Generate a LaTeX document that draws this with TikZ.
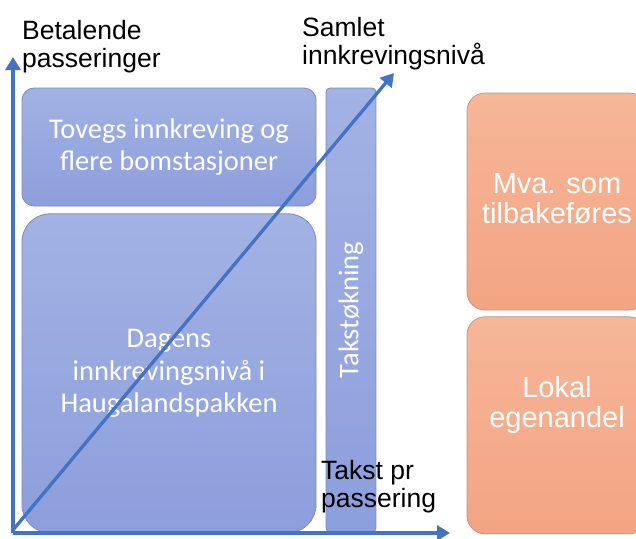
\documentclass[tikz,border=0pt]{standalone}
\usepackage{fontspec}
\setmainfont{Liberation Sans}
\newfontfamily\calfont{Carlito}
\usepackage{tikz}
\usetikzlibrary{positioning,arrows.meta}

\definecolor{axisblue}{RGB}{68,114,196}
\definecolor{boxblue}{RGB}{140,158,220}
\definecolor{boxbluetop}{RGB}{163,178,228}
\definecolor{boxedge}{RGB}{125,140,185}
\definecolor{boxorange}{RGB}{243,164,130}
\definecolor{boxorangetop}{RGB}{246,182,152}
\definecolor{orangeedge}{RGB}{190,150,135}

\begin{document}
\begin{tikzpicture}[
  x=1pt, y=-1pt,
  node distance=7pt and 10pt,
  bbox/.style={draw=boxedge, line width=0.8pt, top color=boxbluetop, bottom color=boxblue,
    text=white, align=center, inner sep=0pt, font=\calfont\fontsize{28.5}{32.5}\selectfont},
  obox/.style={draw=orangeedge, line width=0.8pt, top color=boxorangetop, bottom color=boxorange,
    rounded corners=18pt, minimum width=180pt, minimum height=217pt, inner sep=0pt},
  otext/.style={text=white, align=center, inner sep=0pt, font=\fontsize{29}{30}\selectfont},
  axislabel/.style={anchor=north west, align=left, inner sep=0pt, font=\fontsize{26.5}{28}\selectfont},
  arrow/.style={-{Triangle[length=13pt,width=15pt]}, line width=3.3pt, draw=axisblue}
]
\useasboundingbox (0,0) rectangle (636,538);

% Blue boxes
\node[bbox, minimum width=294pt, minimum height=118pt, rounded corners=12pt] (tovegs) at (169,147)
  {Tovegs innkreving og\\flere bomstasjoner};
\node[bbox, below=of tovegs, minimum width=294pt, minimum height=319pt, rounded corners=28pt] (dagens)
  {Dagens\\innkrevingsnivå i\\Haugalandspakken};
\node[bbox, rotate=90, minimum width=444pt, minimum height=50pt, rounded corners=4pt] (takst) at (351,310)
  {Takstøkning};

% Orange boxes
\node[obox] (mva) at (557,201.5) {};
\node[otext, yshift=3pt] (mvatext) at (mva) {Mva. som\\tilbakeføres};
\node[obox, below=6pt of mva] (lokal) {};
\node[otext, yshift=20pt] (lokaltext) at (lokal) {Lokal\\egenandel};

% Axes
\coordinate (origo) at (13,533);
\coordinate (ytop) at (13,57);
\coordinate (xend) at (450,533);
\coordinate (sumtop) at (394,73);
\draw[arrow] (origo) -- (ytop);
\draw[arrow] (origo) -- (xend);
\draw[arrow] ([yshift=3pt]origo) -- (sumtop);

% Axis labels
\node[axislabel] (ylabel) at (22,20) {Betalende\\passeringer};
\node[axislabel] (sumlabel) at (302,17) {Samlet\\innkrevingsnivå};
\node[axislabel] (xlabel) at (321,460) {Takst pr\\passering};

\end{tikzpicture}
\end{document}
